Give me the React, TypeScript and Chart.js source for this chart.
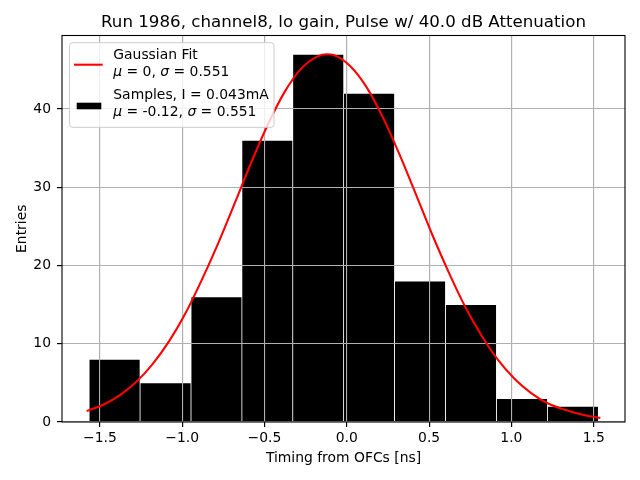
import { useEffect, useRef } from 'react'
import { Chart, registerables } from 'chart.js'
import type { Plugin } from 'chart.js'

Chart.register(...registerables)

// histogram bin edges and counts
const binEdges = [-1.565, -1.256, -0.946, -0.637, -0.328, -0.019, 0.29, 0.6, 0.909, 1.219, 1.528]
const counts = [8, 5, 16, 36, 47, 42, 18, 15, 3, 2]

// red fit curve
const fitX = [-1.58, -1.48, -1.38, -1.28, -1.18, -1.08, -0.98, -0.88, -0.78, -0.68, -0.58, -0.48, -0.38, -0.28, -0.18, -0.12, -0.08, 0.02, 0.12, 0.22, 0.32, 0.42, 0.52, 0.62, 0.72, 0.82, 0.92, 1.02, 1.12, 1.22, 1.32, 1.42, 1.54]
const fitY = [1.4, 2.2, 3.4, 5.1, 7.4, 10.3, 13.9, 18.2, 22.9, 28.0, 33.2, 38.0, 42.1, 45.1, 46.7, 47.0, 46.9, 45.5, 42.8, 38.9, 34.2, 29.1, 23.9, 19.1, 14.7, 11.0, 7.9, 5.5, 3.7, 2.4, 1.6, 1.0, 0.5]

const xTicks = [-1.5, -1.0, -0.5, 0.0, 0.5, 1.0, 1.5]
const xTickLabels = ['\u22121.5', '\u22121.0', '\u22120.5', '0.0', '0.5', '1.0', '1.5']
const yTicks = [0, 10, 20, 30, 40]

const TITLE = 'Run 1986, channel8, lo gain, Pulse w/ 40.0 dB Attenuation'
const X_LABEL = 'Timing from OFCs [ns]'
const Y_LABEL = 'Entries'

const FONT = '"DejaVu Sans", sans-serif'
const GRID = '#b0b0b0'

type Seg = [string, boolean]

function drawRich(ctx: CanvasRenderingContext2D, segs: Seg[], x: number, y: number) {
  let cx = x
  for (const [t, it] of segs) {
    ctx.font = `${it ? 'italic ' : ''}13.9px ${FONT}`
    ctx.fillText(t, cx, y)
    cx += ctx.measureText(t).width
  }
}

const gridOnTop: Plugin<'bar'> = {
  id: 'gridOnTop',
  afterDatasetDraw(chart, args) {
    if (args.index !== 1) return
    const ctx = chart.ctx
    ctx.save()
    ;(chart.scales.x as any).drawGrid(chart.chartArea)
    ;(chart.scales.y as any).drawGrid(chart.chartArea)
    ctx.restore()
  },
}

const decorations: Plugin<'bar'> = {
  id: 'decorations',
  afterDraw(chart) {
    const ctx = chart.ctx
    const a = chart.chartArea
    ctx.save()
    // spines
    ctx.strokeStyle = '#000'
    ctx.lineWidth = 1.1
    ctx.strokeRect(a.left, a.top, a.right - a.left, a.bottom - a.top)

    ctx.fillStyle = '#000'
    ctx.textAlign = 'center'
    ctx.textBaseline = 'alphabetic'
    ctx.font = `16.67px ${FONT}`
    ctx.fillText(TITLE, (a.left + a.right) / 2, 26.7)
    ctx.font = `13.9px ${FONT}`
    ctx.fillText(X_LABEL, (a.left + a.right) / 2, 461.5)
    ctx.save()
    ctx.translate(26, (a.top + a.bottom) / 2)
    ctx.rotate(-Math.PI / 2)
    ctx.fillText(Y_LABEL, 0, 0)
    ctx.restore()

    // legend
    const lx = 69.5, ly = 42.7, lw = 204.5, lh = 84.6
    ctx.beginPath()
    ctx.roundRect(lx, ly, lw, lh, 3)
    ctx.fillStyle = 'rgba(255,255,255,0.8)'
    ctx.fill()
    ctx.strokeStyle = '#cccccc'
    ctx.lineWidth = 1
    ctx.stroke()

    ctx.strokeStyle = 'red'
    ctx.lineWidth = 2.08
    ctx.beginPath()
    ctx.moveTo(74, 64.7)
    ctx.lineTo(102.7, 64.7)
    ctx.stroke()
    ctx.fillStyle = '#000'
    ctx.fillRect(76.7, 102.7, 24.6, 6.6)

    ctx.textAlign = 'left'
    const tx = 113.3
    drawRich(ctx, [['Gaussian Fit', false]], tx, 59.3)
    drawRich(ctx, [['\u03bc', true], [' = 0, ', false], ['\u03c3', true], [' = 0.551', false]], tx, 76)
    drawRich(ctx, [['Samples, I = 0.043mA', false]], tx, 98.7)
    drawRich(ctx, [['\u03bc', true], [' = -0.12, ', false], ['\u03c3', true], [' = 0.551', false]], tx, 116)
    ctx.restore()
  },
}

export default function App() {
  const canvasRef = useRef<HTMLCanvasElement>(null)

  useEffect(() => {
    if (!canvasRef.current) return
    const barData = counts.map((c, i) => ({ x: (binEdges[i] + binEdges[i + 1]) / 2, y: c }))
    const fitData = fitX.map((x, i) => ({ x, y: fitY[i] }))

    const chart = new Chart(canvasRef.current, {
      type: 'bar',
      data: {
        datasets: [
          {
            type: 'line',
            label: 'Gaussian Fit',
            data: fitData,
            borderColor: 'red',
            borderWidth: 2.08,
            pointRadius: 0,
            cubicInterpolationMode: 'monotone',
            order: 0,
          } as any,
          {
            label: 'Samples',
            data: barData,
            backgroundColor: '#000',
            borderColor: '#fff',
            borderWidth: 0.7,
            barPercentage: 1,
            categoryPercentage: 1,
            order: 1,
          },
        ],
      },
      options: {
        responsive: false,
        animation: false,
        layout: { padding: { top: 35.5, right: 15, left: 0, bottom: 0 } },
        plugins: { legend: { display: false }, tooltip: { enabled: false }, title: { display: false } },
        scales: {
          x: {
            type: 'linear',
            min: -1.73,
            max: 1.69,
            offset: false,
            afterFit: (s) => { s.height = 58 },
            afterBuildTicks: (s) => { s.ticks = xTicks.map((v) => ({ value: v })) },
            border: { display: false },
            grid: { color: GRID, lineWidth: 1.1, tickLength: 5, tickColor: '#000', tickWidth: 1.1, offset: false },
            ticks: {
              color: '#000',
              font: { family: FONT, size: 13.9 },
              padding: 3,
              maxRotation: 0,
              callback: (v) => xTickLabels[xTicks.indexOf(Number(v))] ?? '',
            },
          },
          y: {
            min: 0,
            max: 49.4,
            afterFit: (s) => { s.width = 62 },
            afterBuildTicks: (s) => { s.ticks = yTicks.map((v) => ({ value: v })) },
            border: { display: false },
            grid: { color: GRID, lineWidth: 1.1, tickLength: 5, tickColor: '#000', tickWidth: 1.1 },
            ticks: {
              color: '#000',
              font: { family: FONT, size: 13.9 },
              padding: 6,
              callback: (v) => String(v),
            },
          },
        },
      },
      plugins: [gridOnTop, decorations],
    })
    return () => chart.destroy()
  }, [])

  return (
    <div style={{ position: 'absolute', left: 0, top: 0, width: 640, height: 480, background: '#fff' }}>
      <canvas ref={canvasRef} width={640} height={480} />
    </div>
  )
}
